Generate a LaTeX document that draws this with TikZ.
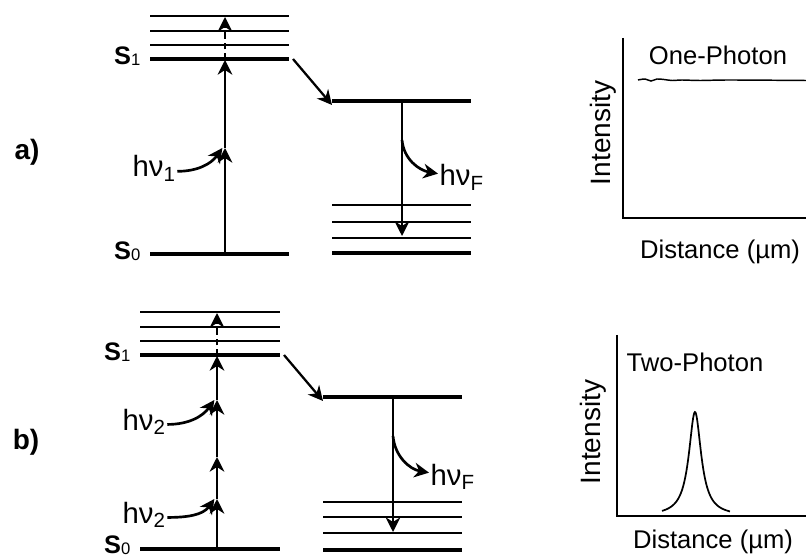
\documentclass[tikz,border=0pt]{standalone}
\usepackage{fontspec}
\setmainfont{Liberation Sans}
\usetikzlibrary{arrows.meta,positioning}

\tikzset{
  level/.style={line width=2.7pt},
  sublevel/.style={line width=1.1pt},
  trans/.style={line width=1.7pt,-{Stealth[length=11pt,width=11pt,inset=3.5pt]}},
  curl/.style={line width=2pt,-{Stealth[length=11pt,width=11pt,inset=3.5pt]}},
  photon/.style={font=\fontsize{22}{24}\selectfont, inner sep=1pt, anchor=base west},
  statelbl/.style={font=\bfseries\fontsize{19}{21}\selectfont, anchor=base east, inner sep=0pt, xshift=-7pt, yshift=-4pt},
  panel/.style={font=\bfseries\fontsize{21}{23}\selectfont},
  axis/.style={line width=1.6pt},
  axlbl/.style={font=\fontsize{19.2}{21}\selectfont},
}
\newcommand{\lvsub}[1]{\raisebox{-1pt}{\mdseries\fontsize{12.5}{13}\selectfont #1}}

\begin{document}
\begin{tikzpicture}[x=0.75pt, y=-0.75pt]
  \useasboundingbox (0,0) rectangle (806,559);

  % a) one-photon excitation
  \node[panel] (pa) at (27,152) {a)};
  \foreach \y in {16,31,45} \draw[sublevel] (150,\y) -- (289,\y);
  \draw[level] (150,59) coordinate (aS1l) -- (289,59) coordinate (aS1r);
  \draw[level] (150,254) coordinate (aS0l) -- (289,254) coordinate (aS0r);
  \node[statelbl] (aS1) at (aS1l) {S\lvsub{1}};
  \node[statelbl] (aS0) at (aS0l) {S\lvsub{0}};
  \coordinate (ag) at (225,254);
  \coordinate (am) at (225,148);
  \coordinate (ae) at (225,60);
  \coordinate (at) at (225,17);
  \draw[trans] (ag) -- (am);
  \draw[trans] (am) -- (ae);
  \draw[trans, dash pattern=on 5pt off 3pt] (ae) -- (at);
  \node[photon] (hva) at (131,177) {hν\textsubscript{1}};
  \draw[curl] ([yshift=-2pt]hva.east) to[out=0, in=-125] ([xshift=-2pt]am);

  \coordinate (aSt) at (332,101);
  \draw[trans] ([xshift=3pt]aS1r) -- ([yshift=-3pt]aSt);
  \draw[level] (aSt) -- (471,101);
  \foreach \y in {205,222,238} \draw[sublevel] (332,\y) -- (471,\y);
  \draw[level] (332,253) -- (471,253);
  \coordinate (af) at (402,101);
  \coordinate (afe) at (402,236);
  \coordinate (afm) at (402,140);
  \draw[trans] (af) -- (afe);
  \node[photon] (hvfa) at (438,186) {hν\textsubscript{F}};
  \draw[curl] (afm) to[out=-85, in=170] ([yshift=3pt]hvfa.west);

  \draw[axis] (623,38) coordinate (ay) -- (623,218) coordinate (ao) -- (806,218);
  \node[axlbl] (ona) at (718,55) {One-Photon};
  \node[axlbl, font=\fontsize{21}{23}\selectfont, rotate=90] (ina) at (603,133) {Intensity};
  \node[axlbl] (dia) at (720,252) {Distance (µm)};
  \draw[line width=1.1pt] plot[smooth] coordinates {(638,80) (645,79) (651,81) (657,79) (664,79.5) (672,80.5) (682,80) (700,80.5) (730,80) (806,80.5)};

  % b) two-photon excitation
  \node[panel] (pb) at (26,442) {b)};
  \foreach \y in {312,327,341} \draw[sublevel] (140,\y) -- (280,\y);
  \draw[level] (140,355) coordinate (bS1l) -- (280,355) coordinate (bS1r);
  \draw[level] (140,549) coordinate (bS0l) -- (280,549) coordinate (bS0r);
  \node[statelbl] (bS1) at (bS1l) {S\lvsub{1}};
  \node[statelbl, yshift=1pt] (bS0) at (bS0l) {S\lvsub{0}};
  \coordinate (bg) at (217,549);
  \coordinate (bm1) at (217,499);
  \coordinate (bm2) at (217,457);
  \coordinate (bm3) at (217,400);
  \coordinate (be) at (217,356);
  \coordinate (bt) at (217,313);
  \draw[trans] (bg) -- (bm1);
  \draw[trans] (bm1) -- (bm2);
  \draw[trans] (bm2) -- (bm3);
  \draw[trans] (bm3) -- (be);
  \draw[trans, dash pattern=on 5pt off 3pt] (be) -- (bt);
  \node[photon] (hvb1) at (121,430) {hν\textsubscript{2}};
  \node[photon] (hvb2) at (121,523) {hν\textsubscript{2}};
  \draw[curl] ([yshift=-2pt]hvb1.east) to[out=0, in=-125] ([xshift=-2pt]bm3);
  \draw[curl] ([yshift=-2pt]hvb2.east) to[out=0, in=-125] ([xshift=-2pt]bm1);

  \coordinate (bSt) at (323,397);
  \draw[trans] ([xshift=3pt]bS1r) -- ([yshift=-3pt]bSt);
  \draw[level] (bSt) -- (462,397);
  \foreach \y in {502,517,533} \draw[sublevel] (323,\y) -- (462,\y);
  \draw[level] (323,550) -- (462,550);
  \coordinate (bf) at (393,397);
  \coordinate (bfe) at (393,532);
  \coordinate (bfm) at (393,436);
  \draw[trans] (bf) -- (bfe);
  \node[photon] (hvfb) at (429,485) {hν\textsubscript{F}};
  \draw[curl] (bfm) to[out=-85, in=170] ([yshift=3pt]hvfb.west);

  \draw[axis] (617,335) coordinate (by) -- (617,516) coordinate (bo) -- (806,516);
  \node[axlbl] (twb) at (695,362) {Two-Photon};
  \node[axlbl, font=\fontsize{21}{23}\selectfont, rotate=90] (inb) at (593,432) {Intensity};
  \node[axlbl] (dib) at (713,542) {Distance (µm)};
  \draw[line width=1.3pt] plot[domain=662:730, samples=121, smooth] (\x, {516-104/(1+((\x-695)/7.5)^2)});
\end{tikzpicture}
\end{document}
